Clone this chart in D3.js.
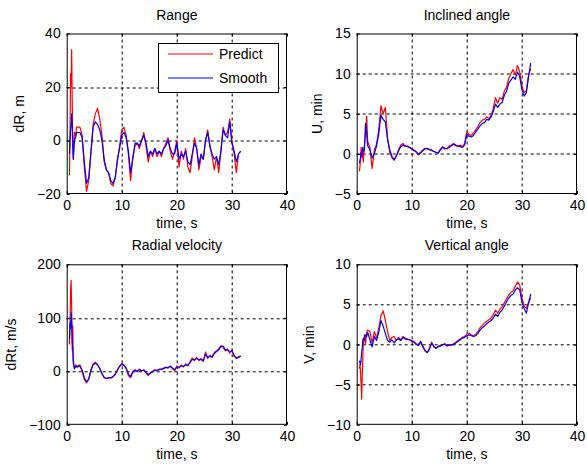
<!DOCTYPE html>
<html>
<head>
<meta charset="utf-8">
<script src="https://cdn.jsdelivr.net/npm/d3@7"></script>
<style>
html,body{margin:0;padding:0;background:#fff;}
svg{display:block;}
text{font-family:"Liberation Sans",Arial,Helvetica,sans-serif;fill:#000;}
</style>
</head>
<body>
<svg id="chart" width="587" height="465"></svg>
<script>
// ---------------- data ----------------
const time = [0.5,0.6,0.7,0.8,0.9,1.0,1.1,1.2,1.4,1.6,1.8,2.0,
  2.4,2.8,3.2,3.6,4.0,4.4,4.8,5.2,5.6,6.0,6.4,6.8,7.2,7.6,8.0,8.4,8.8,9.2,9.6,10.0,
  10.4,10.8,11.2,11.6,12.0,12.4,12.8,13.2,13.6,14.0,14.4,14.8,15.2,15.6,16.0,16.4,16.8,17.2,17.6,18.0,
  18.4,18.8,19.2,19.6,20.0,20.4,20.8,21.2,21.6,22.0,22.4,22.8,23.2,23.6,24.0,24.4,24.8,25.2,25.6,26.0,
  26.4,26.8,27.2,27.6,28.0,28.4,28.8,29.2,29.6,30.0,30.4,30.8,31.2,31.6];

const rangePredict = [-13,1,25,20,34,15,0,-7,3,2,5,5,
  5,2,-10,-19,-15,-5,6,10,12,8,2,-8,-11,-12,-16,-17,-14,-8,-2,4,
  5,2,-5,-15,-6,-2,-1,-3,0,3,-2,-8,-4,-6,-3,-6,-4,-6,-3,-1,
  1,-4,-7,-4,0,-10,-4,-7,-3,-10,-12,-6,1,-3,-11,-6,-7,0,4,-2,
  -6,-11,-6,-12,-4,5,2,3,8,0,-5,-12,-5,-4];
const rangeSmooth = [-5,0,4,6,10,5,-2,-7,0,1,3,3,
  3,1,-8,-16,-14,-4,5,7,6,4,0,-7,-11,-12,-15,-16,-14,-7,-3,2,
  3,1,-4,-12,-7,-1,-1,-2,0,2,-1,-6,-4,-5,-3,-5,-4,-5,-3,-2,
  0,-3,-5,-5,-1,-7,-5,-6,-4,-8,-9,-5,-1,-3,-9,-5,-7,0,3,-2,
  -5,-7,-6,-9,-4,4,2,1,7,-1,-4,-8,-5,-4];

const inclinedPredict = [-2.2,-1.5,-0.5,0.8,0,-0.5,0.5,-1,1,2.5,4.7,1.5,
  0.8,-1.8,0.5,1.2,3,6,5,5.8,2,0.2,-0.5,-0.8,-0.3,0.5,1.1,1.3,0.9,1,0.8,0.7,
  0.5,0.2,0,0.2,0.5,0.7,0.6,0.6,0.4,0.3,0.2,0.1,0.6,0.9,0.7,0.6,1.0,1.1,1.3,1.1,
  0.9,1.1,0.9,1.3,2.8,2.4,2.3,2.6,3.0,3.4,3.9,4.2,4.3,4.6,4.4,4.8,5.7,7.0,6.3,7.0,
  6.8,7.8,8.3,9.4,10.0,10.5,9.8,11.0,10.2,8.5,7.6,7.9,9.8,10.6];
const inclinedSmooth = [-1.2,-0.8,-0.5,0.2,-0.3,0.3,0.8,0.3,0.5,3.8,2.5,1,
  0.5,-0.5,0,1,2.5,4.8,4.3,4,1.8,0.5,-0.3,-0.7,-0.2,0.4,0.9,1.1,1,0.9,0.8,0.6,
  0.4,0.3,-0.1,0.1,0.4,0.6,0.7,0.5,0.5,0.3,0.2,0.1,0.5,0.8,0.6,0.7,0.8,1.0,1.2,1.0,
  1.0,0.9,0.8,1.1,2.5,2.2,2.1,2.3,2.7,3.1,3.5,3.8,3.9,4.3,4.2,4.6,5.3,6.2,5.8,6.2,
  6.4,7.3,7.8,8.8,9.2,9.6,9.3,10.2,9.6,8.0,7.2,7.6,9.6,11.3];

const velocityPredict = [50,90,150,170,120,40,85,20,5,12,8,10,
  12,0,-15,-22,-15,2,14,17,13,5,-5,-12,-14,-12,-13,-10,-5,3,10,15,
  12,5,-8,-12,0,3,-1,4,0,3,-3,-8,-3,0,3,1,4,3,6,8,
  6,10,5,1,10,6,12,8,14,10,18,25,20,26,20,24,18,36,24,30,
  26,35,38,42,48,45,38,42,34,40,28,25,27,29];
const velocitySmooth = [60,90,80,110,90,60,40,15,5,8,10,8,
  10,2,-12,-20,-14,2,12,15,12,5,-4,-11,-13,-12,-12,-10,-6,2,9,13,
  11,6,-5,-10,-2,2,0,3,1,2,-2,-6,-3,-1,2,2,3,4,5,7,
  7,9,6,3,8,8,10,9,12,11,16,22,22,24,22,22,20,32,26,28,
  27,33,37,40,46,47,40,40,37,38,30,24,26,28];

const verticalPredict = [-3,-2.5,-3.5,-5,-6.8,-4,-2,0,1.2,0,1.5,1.8,
  1.6,0.2,1.6,0.8,2,3.6,4.2,3,1.6,0.5,0.9,1,0.5,0.9,0.6,1.0,0.8,0.7,0.6,0.5,
  0.4,0.1,0,0.3,-0.3,-0.8,-1,-0.5,0.3,-0.3,-0.4,-0.3,-0.1,0,0,-0.2,0,-0.1,0.1,0.3,
  0.5,0.7,0.9,1.0,1.3,1.4,1.2,1.1,1.3,1.6,2.1,2.4,2.7,2.9,3.1,3.3,3.7,4.3,3.9,4.4,
  4.7,5.2,5.7,6.2,6.5,6.7,7.3,7.8,7.4,5.8,4.8,4.5,5.2,5.8];
const verticalSmooth = [-2,-2.3,-2.5,-1.8,-1,-0.5,0.5,0.8,0.5,1.2,1,1.5,
  0.6,-0.3,1,0.5,1.5,3,2.3,1.4,0.5,0.3,0.6,0.2,0.6,0.7,0.5,0.9,0.7,0.6,0.6,0.4,
  0.3,0,-0.1,0.4,-0.2,-0.7,-1,-0.6,0.2,-0.2,-0.5,-0.2,-0.2,0,0.1,-0.1,-0.1,0,0,0.2,
  0.4,0.6,0.8,0.9,1.1,1.2,1.1,1.0,1.1,1.4,1.8,2.1,2.3,2.6,2.8,3.0,3.3,3.8,3.5,4.0,
  4.3,4.8,5.3,5.8,6.1,6.3,6.8,7.1,6.8,5.3,4.5,3.9,5.2,6.3];

const xTicks = [0,10,20,30,40];
const rangeTicks = [-20,0,20,40];
const inclinedTicks = [-5,0,5,10,15];
const velocityTicks = [-100,0,100,200];
const verticalTicks = [-10,-5,0,5,10];
const titles = ["Range","Inclined angle","Radial velocity","Vertical angle"];
const yLabels = ["dR, m","U, min","dRt, m/s","V, min"];
const xLabel = "time, s";
const seriesNames = ["Predict","Smooth"];
const seriesColors = ["#ff0000","#0000ff"];

// ---------------- layout ----------------
const W = 220.3, H = 160.5;
const panels = [
  {left:66.7, top:33.5, ticks:rangeTicks, pred:rangePredict, smooth:rangeSmooth, title:titles[0], ylabel:yLabels[0], legend:true},
  {left:356.7, top:33.5, ticks:inclinedTicks, pred:inclinedPredict, smooth:inclinedSmooth, title:titles[1], ylabel:yLabels[1]},
  {left:66.7, top:264.3, ticks:velocityTicks, pred:velocityPredict, smooth:velocitySmooth, title:titles[2], ylabel:yLabels[2]},
  {left:356.7, top:264.3, ticks:verticalTicks, pred:verticalPredict, smooth:verticalSmooth, title:titles[3], ylabel:yLabels[3]}
];

const svg = d3.select("#chart");
svg.append("rect").attr("width",587).attr("height",465).attr("fill","#fff");
const FS = 14;

panels.forEach((p,i) => {
  const g = svg.append("g").attr("transform",`translate(${p.left},${p.top})`);
  const x = d3.scaleLinear().domain([xTicks[0], xTicks[xTicks.length-1]]).range([0,W]);
  const y = d3.scaleLinear().domain([p.ticks[0], p.ticks[p.ticks.length-1]]).range([H,0]);

  g.append("rect").attr("width",W).attr("height",H).attr("fill","#fff");

  // grid
  const grid = g.append("g").attr("stroke","#000").attr("stroke-width",1).attr("stroke-dasharray","3,3");
  xTicks.slice(1,-1).forEach(v => grid.append("line")
    .attr("x1",Math.round(x(v))+0.5).attr("x2",Math.round(x(v))+0.5).attr("y1",0).attr("y2",H));
  p.ticks.slice(1,-1).forEach(v => grid.append("line")
    .attr("y1",Math.round(y(v))+0.5).attr("y2",Math.round(y(v))+0.5).attr("x1",0).attr("x2",W));

  // lines
  const clipId = "clip"+i;
  g.append("clipPath").attr("id",clipId).append("rect").attr("width",W).attr("height",H);
  const line = d3.line().x((d,k)=>x(time[k])).y(d=>y(d));
  [p.pred, p.smooth].forEach((s,k) => {
    g.append("path").datum(s).attr("clip-path",`url(#${clipId})`)
      .attr("fill","none").attr("stroke",seriesColors[k]).attr("stroke-width",1.2)
      .attr("stroke-linejoin","round").attr("d",line);
  });

  // axes
  const ax = (a) => a.tickSizeInner(-3).tickSizeOuter(0).tickPadding(6);
  const bottom = g.append("g").attr("transform",`translate(0,${H})`)
    .call(ax(d3.axisBottom(x).tickValues(xTicks).tickFormat(d3.format("d"))));
  const left = g.append("g").call(ax(d3.axisLeft(y).tickValues(p.ticks).tickFormat(d3.format("d"))));
  g.append("g").call(ax(d3.axisTop(x).tickValues(xTicks).tickFormat("")));
  g.append("g").attr("transform",`translate(${W},0)`).call(ax(d3.axisRight(y).tickValues(p.ticks).tickFormat("")));
  g.selectAll(".domain").remove();
  g.selectAll(".tick line").attr("stroke","#000");
  g.selectAll(".tick text").attr("font-size",FS).attr("font-family","'Liberation Sans',Arial,sans-serif").attr("fill","#000");

  // box
  g.append("rect").attr("x",0.5).attr("y",0.5).attr("width",W-1).attr("height",H-1)
    .attr("fill","none").attr("stroke","#000").attr("stroke-width",1);

  // title & labels
  g.append("text").attr("x",W/2).attr("y",-14).attr("text-anchor","middle").attr("font-size",FS).text(p.title);
  g.append("text").attr("x",W/2).attr("y",H+34).attr("text-anchor","middle").attr("font-size",FS).text(xLabel);
  let maxW = 0;
  left.selectAll(".tick text").each(function(){ maxW = Math.max(maxW, this.getBBox().width); });
  const lx = -6 - maxW - 12.5;
  g.append("text").attr("transform",`translate(${lx},${H/2}) rotate(-90)`)
    .attr("text-anchor","middle").attr("font-size",FS).text(p.ylabel);

  if (p.legend) {
    const lg = g.append("g").attr("transform","translate(91.3,9.5)");
    lg.append("rect").attr("x",0.5).attr("y",0.5).attr("width",120).attr("height",49)
      .attr("fill","#fff").attr("stroke","#000");
    seriesNames.forEach((n,k) => {
      const yy = 11 + k*24;
      lg.append("line").attr("x1",10).attr("x2",55).attr("y1",yy).attr("y2",yy)
        .attr("stroke",seriesColors[k]).attr("stroke-width",1.2);
      lg.append("text").attr("x",61).attr("y",yy+5).attr("font-size",FS).text(n);
    });
  }
});
</script>
</body>
</html>
